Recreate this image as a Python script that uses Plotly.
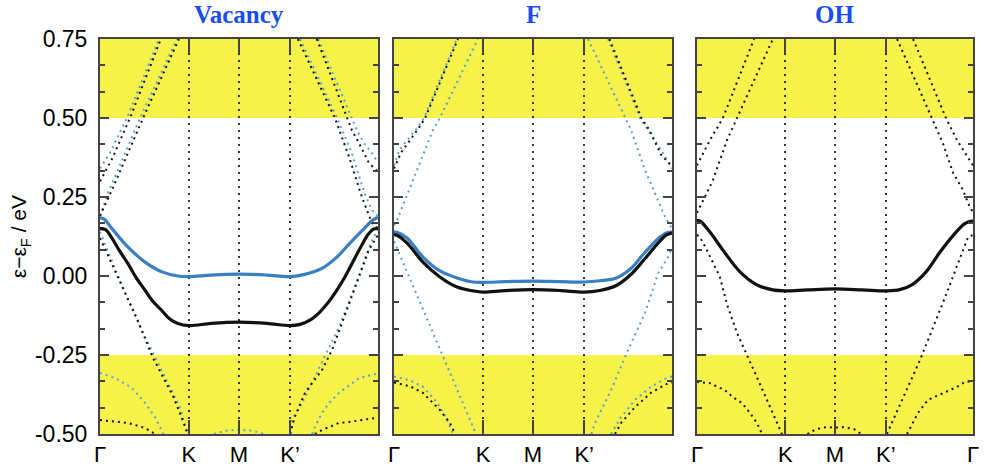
import plotly.graph_objects as go

# ---------------- data ----------------
path_ticks = [0, 0.32, 0.5, 0.684, 1]
path_labels = ["Γ", "K", "M", "K’", "Γ"]
panel_titles = ["Vacancy", "F", "OH"]
y_ticks = [-0.5, -0.25, 0.0, 0.25, 0.5, 0.75]
y_ticklabels = ["-0.50", "-0.25", "0.00", "0.25", "0.50", "0.75"]
yellow_bands = [(0.5, 0.75), (-0.5, -0.25)]

# solid bands
vac_black_x = [0, 0.02, 0.043, 0.07, 0.10, 0.13, 0.162, 0.19, 0.223, 0.25, 0.28, 0.32, 0.40, 0.50,
               0.60, 0.684, 0.72, 0.76, 0.79, 0.82, 0.85, 0.88, 0.91, 0.94, 0.965, 0.985, 1.0]
vac_black_y = [0.150, 0.147, 0.12, 0.08, 0.04, -0.005, -0.045, -0.08, -0.11, -0.135, -0.150, -0.157,
               -0.150, -0.146, -0.150, -0.157, -0.153, -0.137, -0.115, -0.085, -0.048, -0.005, 0.045,
               0.095, 0.132, 0.149, 0.150]
vac_blue_x = [0, 0.015, 0.043, 0.10, 0.162, 0.223, 0.28, 0.32, 0.40, 0.50, 0.60, 0.684, 0.74, 0.80,
              0.85, 0.90, 0.95, 0.98, 1]
vac_blue_y = [0.184, 0.180, 0.150, 0.092, 0.044, 0.013, 0.0, -0.002, 0.003, 0.006, 0.003, -0.002,
              0.006, 0.025, 0.058, 0.105, 0.150, 0.176, 0.186]

f_black_x = [0, 0.01, 0.047, 0.104, 0.165, 0.227, 0.284, 0.32, 0.40, 0.5, 0.6, 0.684, 0.74, 0.80,
             0.85, 0.90, 0.95, 0.98, 1]
f_black_y = [0.130, 0.129, 0.104, 0.044, -0.003, -0.035, -0.047, -0.051, -0.046, -0.043, -0.046,
             -0.051, -0.046, -0.030, 0.003, 0.052, 0.104, 0.130, 0.136]
f_blue_x = [0, 0.01, 0.047, 0.104, 0.165, 0.227, 0.284, 0.32, 0.40, 0.5, 0.6, 0.684, 0.74, 0.80,
            0.85, 0.90, 0.95, 0.98, 1]
f_blue_y = [0.139, 0.138, 0.12, 0.06, 0.016, -0.006, -0.019, -0.020, -0.018, -0.016, -0.018, -0.019,
            -0.015, -0.006, 0.022, 0.072, 0.118, 0.136, 0.139]

oh_black_x = [0, 0.011, 0.047, 0.094, 0.156, 0.217, 0.275, 0.319, 0.40, 0.5, 0.6, 0.685, 0.735,
              0.78, 0.83, 0.88, 0.93, 0.97, 1]
oh_black_y = [0.175, 0.174, 0.139, 0.082, 0.013, -0.028, -0.044, -0.047, -0.044, -0.041, -0.044,
              -0.047, -0.043, -0.027, 0.013, 0.075, 0.130, 0.166, 0.175]

# dotted bands: each entry is ([x...], [y...])
vac_dot_black = [
    ([0, 0.043, 0.108, 0.219], [0.30, 0.37, 0.50, 0.75]),
    ([0, 0.043, 0.155, 0.284], [0.19, 0.272, 0.50, 0.75]),
    ([0, 0.133, 0.191, 0.263, 0.317], [0.12, -0.135, -0.26, -0.38, -0.5]),
    ([0, 0.101, 0.162, 0.198], [-0.456, -0.465, -0.481, -0.5]),
    ([0.712, 0.845, 0.896, 0.942, 0.978, 1], [0.75, 0.5, 0.377, 0.25, 0.168, 0.15]),
    ([0.78, 0.906, 0.932, 0.968, 1], [0.75, 0.462, 0.42, 0.357, 0.33]),
    ([0.683, 0.701, 0.737, 0.799, 0.835, 0.906, 0.967, 1],
     [-0.5, -0.446, -0.37, -0.297, -0.234, -0.066, 0.082, 0.13]),
    ([0.773, 0.799, 0.824, 0.86, 0.896, 0.942, 1], [-0.5, -0.487, -0.478, -0.465, -0.462, -0.455, -0.448]),
]
vac_dot_blue = [
    ([0, 0.036, 0.097, 0.212], [0.34, 0.39, 0.50, 0.75]),
    ([0, 0.029, 0.144, 0.277], [0.19, 0.263, 0.50, 0.75]),
    ([0, 0.1, 0.155, 0.216, 0.29, 0.312], [0.14, -0.075, -0.18, -0.29, -0.42, -0.5]),
    ([0, 0.054, 0.115, 0.162, 0.198, 0.228], [-0.307, -0.323, -0.354, -0.402, -0.446, -0.5]),
    ([0.41, 0.45, 0.5, 0.55, 0.59], [-0.5, -0.49, -0.486, -0.49, -0.5]),
    ([0.72, 0.853, 0.906, 0.951, 0.978, 1], [0.75, 0.5, 0.389, 0.263, 0.209, 0.19]),
    ([0.785, 0.924, 0.95, 0.978, 1], [0.75, 0.462, 0.42, 0.389, 0.36]),
    ([0.687, 0.691, 0.727, 0.773, 0.809, 0.860, 0.917, 0.971, 1],
     [-0.5, -0.456, -0.402, -0.32, -0.256, -0.161, -0.035, 0.098, 0.15]),
    ([0.763, 0.773, 0.799, 0.824, 0.860, 0.906, 0.932, 0.978, 1],
     [-0.5, -0.478, -0.433, -0.402, -0.37, -0.339, -0.323, -0.313, -0.308]),
]

f_dot_black = [
    ([0, 0.025, 0.09, 0.112, 0.230], [0.34, 0.39, 0.47, 0.5, 0.75]),
    ([0, 0.058, 0.104, 0.165, 0.201, 0.22], [-0.337, -0.349, -0.37, -0.424, -0.465, -0.5]),
    ([0.775, 0.89, 0.92, 0.961, 0.986, 1], [0.75, 0.5, 0.46, 0.383, 0.36, 0.35]),
    ([0.795, 0.817, 0.867, 0.924, 0.986, 1], [-0.5, -0.465, -0.415, -0.37, -0.339, -0.337]),
]
f_dot_blue = [
    ([0, 0.02, 0.085, 0.108, 0.226], [0.35, 0.40, 0.47, 0.5, 0.75]),
    ([0, 0.011, 0.07, 0.14, 0.165, 0.302], [0.16, 0.177, 0.307, 0.462, 0.5, 0.75]),
    ([0, 0.094, 0.2, 0.295], [0.11, -0.085, -0.30, -0.5]),
    ([0, 0.011, 0.058, 0.104, 0.155, 0.191, 0.212], [-0.318, -0.32, -0.33, -0.351, -0.40, -0.455, -0.5]),
    ([0.698, 0.831, 0.853, 0.903, 0.939, 0.975, 1], [0.75, 0.5, 0.462, 0.335, 0.263, 0.187, 0.15]),
    ([0.77, 0.885, 0.914, 0.96, 1], [0.75, 0.5, 0.462, 0.40, 0.34]),
    ([0.71, 0.723, 0.781, 0.842, 0.903, 0.950, 0.986, 1],
     [-0.5, -0.465, -0.361, -0.234, -0.117, 0.009, 0.06, 0.09]),
    ([0.781, 0.817, 0.867, 0.924, 0.986, 1], [-0.5, -0.446, -0.392, -0.351, -0.32, -0.318]),
]

oh_dot_black = [
    ([0, 0.022, 0.047, 0.094, 0.207], [0.35, 0.389, 0.43, 0.5, 0.75]),
    ([0, 0.011, 0.036, 0.058, 0.083, 0.109, 0.145, 0.275],
     [0.20, 0.218, 0.263, 0.304, 0.367, 0.43, 0.5, 0.75]),
    ([0, 0.011, 0.036, 0.058, 0.083, 0.109, 0.145, 0.217, 0.308],
     [0.13, 0.123, 0.082, 0.041, -0.003, -0.09, -0.18, -0.32, -0.5]),
    ([0, 0.047, 0.076, 0.101, 0.130, 0.163, 0.192, 0.217, 0.236],
     [-0.335, -0.339, -0.351, -0.361, -0.383, -0.402, -0.433, -0.465, -0.5]),
    ([0.40, 0.43, 0.47, 0.5, 0.53, 0.57, 0.595], [-0.5, -0.485, -0.478, -0.48, -0.478, -0.485, -0.5]),
    ([0.725, 0.851, 0.891, 0.928, 0.964, 0.982, 1], [0.75, 0.5, 0.42, 0.326, 0.272, 0.231, 0.20]),
    ([0.783, 0.902, 0.942, 0.964, 0.989, 1], [0.75, 0.5, 0.43, 0.399, 0.367, 0.35]),
    ([0.688, 0.743, 0.808, 0.891, 0.928, 0.946, 0.964, 0.982, 1],
     [-0.5, -0.392, -0.266, -0.085, -0.003, 0.041, 0.082, 0.123, 0.13]),
    ([0.761, 0.783, 0.801, 0.837, 0.891, 0.942, 0.971, 1],
     [-0.5, -0.465, -0.433, -0.392, -0.37, -0.351, -0.335, -0.333]),
]

# ---------------- styles ----------------
BLACK = "#111111"
BLUE_SOLID = "#3a7fc1"
BLUE_DOT = "#5b9fd4"
YELLOW = "#f6f24a"
DOT = "2px,4px"

fig = go.Figure()

panels = [
    ("x", "y", vac_dot_black, vac_dot_blue, [(vac_black_x, vac_black_y, BLACK), (vac_blue_x, vac_blue_y, BLUE_SOLID)]),
    ("x2", "y2", f_dot_black, f_dot_blue, [(f_black_x, f_black_y, BLACK), (f_blue_x, f_blue_y, BLUE_SOLID)]),
    ("x3", "y3", oh_dot_black, [], [(oh_black_x, oh_black_y, BLACK)]),
]

for xa, ya, dblack, dblue, solids in panels:
    for bx, by in dblue:
        fig.add_trace(go.Scatter(x=bx, y=by, xaxis=xa, yaxis=ya, mode="lines",
                                 line=dict(color=BLUE_DOT, width=2, dash=DOT),
                                 showlegend=False, hoverinfo="skip"))
    for bx, by in dblack:
        fig.add_trace(go.Scatter(x=bx, y=by, xaxis=xa, yaxis=ya, mode="lines",
                                 line=dict(color=BLACK, width=2, dash=DOT),
                                 showlegend=False, hoverinfo="skip"))
    for sx, sy, col in reversed(solids):
        fig.add_trace(go.Scatter(x=sx, y=sy, xaxis=xa, yaxis=ya, mode="lines",
                                 line=dict(color=col, width=3.2, shape="spline", smoothing=1.0),
                                 showlegend=False, hoverinfo="skip"))
    for y0, y1 in yellow_bands:
        fig.add_shape(type="rect", xref=xa, yref=ya, x0=0, x1=1, y0=y0, y1=y1,
                      fillcolor=YELLOW, line=dict(width=0), layer="below")

domains = [[0, 0.3184], [0.3368, 0.6552], [0.6838, 1.0]]
FRAME = "#444444"
TICKFONT = dict(family="Liberation Sans, Arial, sans-serif", size=23, color="black")
XTICKFONT = dict(family="Liberation Sans, Arial, sans-serif", size=22, color="black")

layout = dict(
    width=985, height=466,
    margin=dict(l=100, r=12, t=39, b=32, autoexpand=False),
    paper_bgcolor="white", plot_bgcolor="white",
    showlegend=False,
)
for i, dom in enumerate(domains):
    sfx = "" if i == 0 else str(i + 1)
    n = len(path_ticks) if i == 2 else len(path_ticks) - 1
    layout["xaxis" + sfx] = dict(
        domain=dom, range=[0, 1], anchor="y" + sfx, automargin=False,
        tickmode="array", tickvals=path_ticks[:n], ticktext=path_labels[:n],
        ticks="inside", ticklen=14, tickwidth=2, tickcolor=FRAME,
        showline=True, linecolor=FRAME, linewidth=2, mirror="ticks",
        showgrid=True, gridcolor="#333333", gridwidth=2, griddash="2px,5px",
        zeroline=False, tickfont=XTICKFONT, fixedrange=True,
    )
    layout["yaxis" + sfx] = dict(
        domain=[0, 1], range=[-0.5, 0.75], anchor="x" + sfx, automargin=False,
        tickmode="array", tickvals=y_ticks, ticktext=y_ticklabels,
        showticklabels=(i == 0),
        ticks="inside", ticklen=9, tickwidth=2, tickcolor=FRAME,
        minor=dict(dtick=0.25 / 3, tick0=-0.5, ticks="inside", ticklen=5,
                   tickwidth=1.5, tickcolor=FRAME, showgrid=False),
        showline=True, linecolor=FRAME, linewidth=2, mirror="ticks",
        showgrid=False, zeroline=False, tickfont=TICKFONT,
        ticklabelstandoff=6, fixedrange=True,
    )
fig.update_layout(**layout)

for i, t in enumerate(panel_titles):
    sfx = "" if i == 0 else str(i + 1)
    fig.add_annotation(text="<b>" + t + "</b>", xref="x" + sfx + " domain", yref="paper",
                       x=0.5, y=1.063, xanchor="center", yanchor="middle", showarrow=False,
                       font=dict(family="Liberation Serif, Times New Roman, serif", size=25,
                                 color="#1a4cf5"))

fig.add_annotation(text="ε−ε<sub>F</sub> / eV", xref="paper", yref="paper",
                   x=-0.092, y=0.5, textangle=-90, showarrow=False,
                   xanchor="center", yanchor="middle",
                   font=dict(family="Liberation Sans, Arial, sans-serif", size=21, color="black"))

fig.write_html(
    "out.html",
    config={"displayModeBar": False},
    post_script="document.body.style.margin='0';document.body.style.overflow='hidden';",
)
